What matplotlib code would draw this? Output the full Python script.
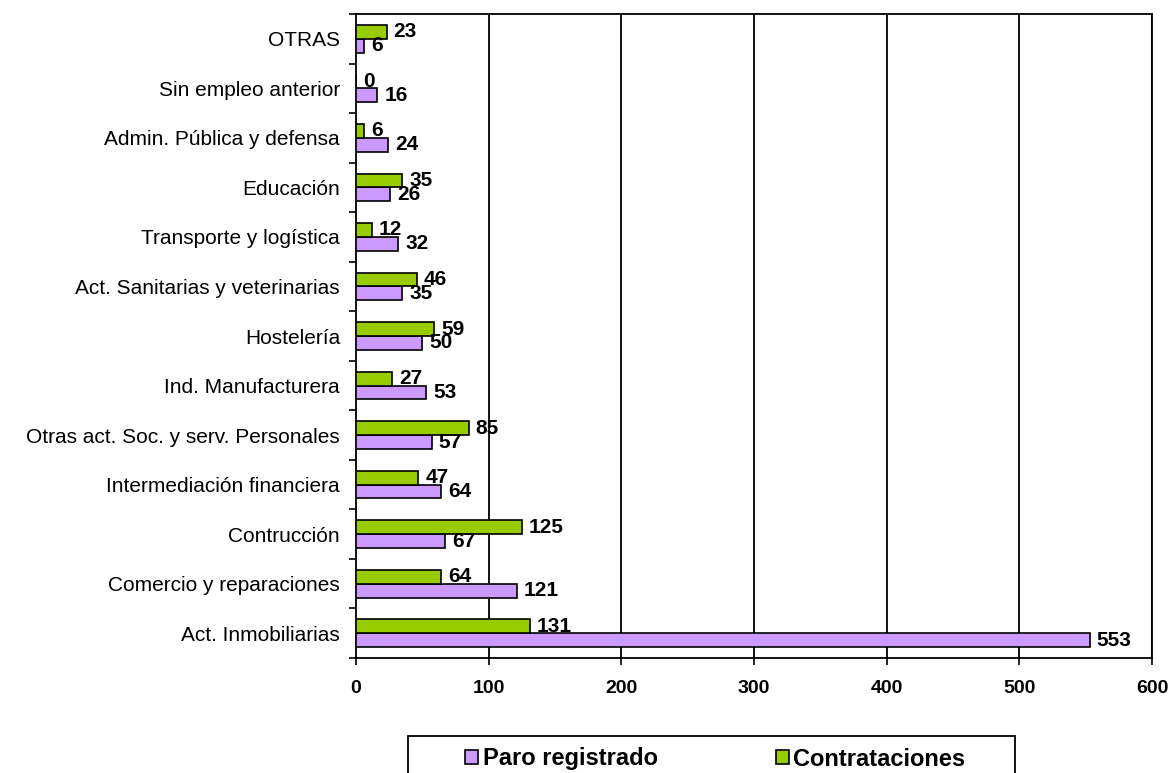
import matplotlib
matplotlib.use("Agg")
import matplotlib.pyplot as plt
from matplotlib.patches import Rectangle
import numpy as np

categories = ["Act. Inmobiliarias", "Comercio y reparaciones", "Contrucción",
              "Intermediación financiera", "Otras act. Soc. y serv. Personales",
              "Ind. Manufacturera", "Hostelería", "Act. Sanitarias y veterinarias",
              "Transporte y logística", "Educación", "Admin. Pública y defensa",
              "Sin empleo anterior", "OTRAS"]
paro = [553, 121, 67, 64, 57, 53, 50, 35, 32, 26, 24, 16, 6]
contrataciones = [131, 64, 125, 47, 85, 27, 59, 46, 12, 35, 6, 0, 23]
xticks = [0, 100, 200, 300, 400, 500, 600]

plt.rcParams['font.family'] = ['Liberation Sans', 'DejaVu Sans']

W, H = 1171, 773
fig = plt.figure(figsize=(W/100, H/100), dpi=100)
ax = fig.add_axes([356/W, 1-658/H, (1152-356)/W, (658-14)/H])

y = np.arange(len(categories))
h = 0.28
purple = "#CC99FF"
green = "#99CC00"
bp = ax.barh(y - h/2, paro, height=h, color=purple, edgecolor="black", linewidth=1.2,
             label="Paro registrado", zorder=3)
bg = ax.barh(y + h/2, contrataciones, height=h, color=green, edgecolor="black", linewidth=1.2,
             label="Contrataciones", zorder=3)

for bars, vals in ((bp, paro), (bg, contrataciones)):
    for b, v in zip(bars, vals):
        ax.annotate(str(v), (b.get_width(), b.get_y() + b.get_height()/2),
                    xytext=(5, 0), textcoords="offset points", ha="left", va="center",
                    fontsize=15, fontweight="bold", zorder=4)

ax.set_xlim(0, 600)
ax.set_ylim(-0.5, len(categories) - 0.5)
ax.set_xticks(xticks)
ax.set_xticklabels([str(t) for t in xticks], fontsize=14, fontweight="bold")
ax.set_yticks(y)
ax.set_yticklabels(categories, fontsize=15)
ax.set_yticks(np.arange(len(categories) + 1) - 0.5, minor=True)
ax.tick_params(axis="y", which="major", length=0, pad=11.5)
ax.tick_params(axis="y", which="minor", length=5, width=1.2, direction="out")
ax.tick_params(axis="x", which="major", length=5, width=1.2, direction="out", pad=11)
for x in xticks[1:]:
    ax.axvline(x, color="black", linewidth=1.3, zorder=1)
for s in ax.spines.values():
    s.set_linewidth(1.3)

# legend box
fig.add_artist(Rectangle((408/W, 1-790/H), (1015-408)/W, (790-736)/H,
                         transform=fig.transFigure, facecolor="white",
                         edgecolor="black", linewidth=1.3))
leg = fig.legend(handles=[bp, bg], loc="center left", bbox_to_anchor=(465/W, 1-759/H),
                 ncol=2, frameon=False,
                 prop={"weight": "bold", "size": 17}, columnspacing=5.0,
                 handlelength=0.55, handleheight=0.55, handletextpad=0.2,
                 borderpad=0, borderaxespad=0)
fig.savefig("out.png", dpi=100)
